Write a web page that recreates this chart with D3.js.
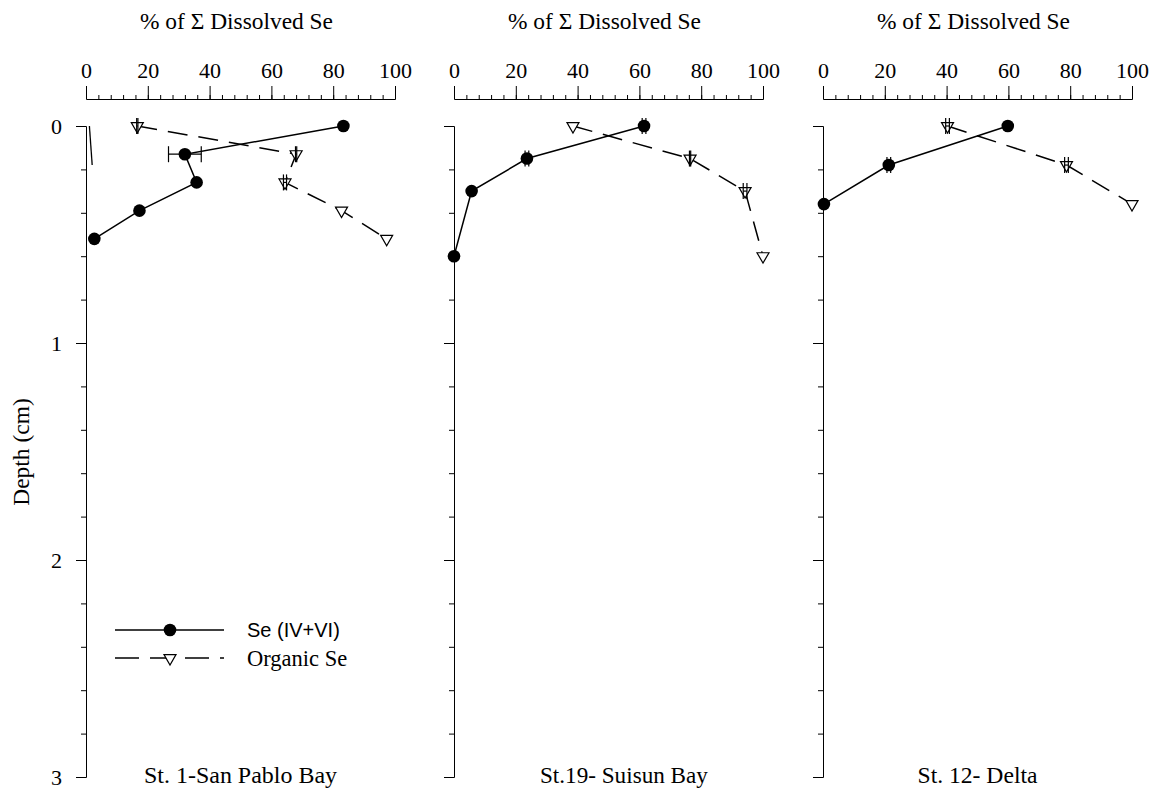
<!DOCTYPE html>
<html>
<head>
<meta charset="utf-8">
<script src="https://cdn.jsdelivr.net/npm/d3@7"></script>
<style>
  svg#chart text { font-family: "Liberation Serif", Tinos, "Times New Roman", serif !important; }
  svg#chart text.sans { font-family: "Liberation Sans", Arimo, Arial, sans-serif !important; }
</style>
</head>
<body style="margin:0">
<svg id="chart" width="1154" height="789" font-family="Liberation Serif"></svg>
<script>
// stations, left to right
const stations = ["St. 1-San Pablo Bay", "St.19- Suisun Bay", "St. 12- Delta"];

// sample depths (cm) per station
const depths = [
    [0, 0.13, 0.26, 0.39, 0.52],
    [0, 0.15, 0.30, 0.60],
    [0, 0.18, 0.36]
];

// Se(IV+VI), % of total dissolved Se
const inorganicSe = [
    [83.3, 32.0, 35.8, 17.3, 2.7],
    [61.5, 23.6, 5.7, 0],
    [59.8, 21.3, 0.3]
];
const inorganicErr = [
    [0, 5.3, 0, 0, 0],
    [0.6, 0.6, 0, 0],
    [0, 0.6, 0]
];

// organic Se, % of total dissolved Se
const organicSe = [
    [16.6, 68.0, 64.4, 82.7, 97.3],
    [38.5, 76.4, 94.2, 100],
    [40.3, 78.8, 100]
];
const organicErr = [
    [0.2, 0.2, 0.5, 0, 0],
    [0, 0.2, 0.6, 0],
    [0.6, 0.6, 0]
];

// short unlabelled trace near zero at St. 1
const traceSe    = [1.1, 2.0];
const traceDepth = [0, 0.18];

const xTicks     = [0, 20, 40, 60, 80, 100];
const depthTicks = [0, 1, 2, 3];

// layout
const panelLeft  = [86, 454, 823];
const panelWidth = 309;
const axisY      = 99;
const labelAt    = [50, 55, 50];     // station name position, in % units
const labelLen   = [193, 168, 120];  // station name widths as printed

const svg = d3.select("#chart");

const y = d3.scaleLinear().domain([0, 3]).range([126, 777]);

const tri = "M-6,-3.46L6,-3.46L0,6.93Z";

function styleAxis(g) {
    g.attr("font-family", null).attr("font-size", 22);
    g.selectAll("line").attr("stroke", "#000").attr("stroke-width", 1);
    g.select(".domain").attr("stroke", "#000").attr("stroke-width", 1);
    g.selectAll("text").attr("fill", "#000");
}

stations.forEach((name, i) => {
    const x = d3.scaleLinear().domain([0, 100]).range([panelLeft[i], panelLeft[i] + panelWidth]);
    const g = svg.append("g");

    // top axis: minor then major
    g.append("g")
        .attr("transform", `translate(0,${axisY})`)
        .call(d3.axisTop(x).tickValues(d3.range(0, 101, 4)).tickSize(4).tickSizeOuter(0).tickFormat(""))
        .call(styleAxis);
    g.append("g")
        .attr("transform", `translate(0,${axisY})`)
        .call(d3.axisTop(x).tickValues(xTicks).tickSize(13).tickSizeOuter(0).tickPadding(8))
        .call(styleAxis);

    g.append("text")
        .attr("x", x(50) - 4).attr("y", 29)
        .attr("text-anchor", "middle")
        .attr("font-size", 23)
        .attr("textLength", 193).attr("lengthAdjust", "spacingAndGlyphs")
        .text("% of Σ Dissolved Se");

    // depth axis
    g.append("g")
        .attr("transform", `translate(${panelLeft[i]},0)`)
        .call(d3.axisLeft(y).tickValues(d3.range(0, 3.01, 0.2)).tickSize(5).tickSizeOuter(0).tickFormat(""))
        .call(styleAxis);
    g.append("g")
        .attr("transform", `translate(${panelLeft[i]},0)`)
        .call(d3.axisLeft(y).tickValues(depthTicks).tickSize(10).tickSizeOuter(0).tickPadding(14)
            .tickFormat(i === 0 ? d3.format("d") : ""))
        .call(styleAxis);

    const line = d3.line().x(d => x(d.v)).y(d => y(d.d));

    const inorg = depths[i].map((d, k) => ({d, v: inorganicSe[i][k], e: inorganicErr[i][k]}));
    const org   = depths[i].map((d, k) => ({d, v: organicSe[i][k], e: organicErr[i][k]}));

    if (i === 0) {
        g.append("path")
            .datum(traceDepth.map((d, k) => ({d, v: traceSe[k]})))
            .attr("d", line)
            .attr("fill", "none").attr("stroke", "#000").attr("stroke-width", 1.3);
    }

    g.append("path").datum(org).attr("d", line)
        .attr("fill", "none").attr("stroke", "#000").attr("stroke-width", 1.5)
        .attr("stroke-dasharray", "20,11");
    g.append("path").datum(inorg).attr("d", line)
        .attr("fill", "none").attr("stroke", "#000").attr("stroke-width", 1.5);

    g.selectAll(".org").data(org).join("path")
        .attr("class", "org")
        .attr("transform", d => `translate(${x(d.v)},${y(d.d)})`)
        .attr("d", tri)
        .attr("fill", "#fff").attr("stroke", "#000").attr("stroke-width", 1.2);
    g.selectAll(".inorg").data(inorg).join("circle")
        .attr("class", "inorg")
        .attr("cx", d => x(d.v)).attr("cy", d => y(d.d))
        .attr("r", 6.3).attr("fill", "#000");

    // horizontal error bars with caps
    const bars = inorg.concat(org).filter(d => d.e > 0);
    const eb = g.selectAll(".err").data(bars).join("g").attr("class", "err")
        .attr("stroke", "#000").attr("stroke-width", 1.2);
    eb.append("line")
        .attr("x1", d => x(d.v - d.e)).attr("x2", d => x(d.v + d.e))
        .attr("y1", d => y(d.d)).attr("y2", d => y(d.d));
    eb.append("line")
        .attr("x1", d => x(d.v - d.e)).attr("x2", d => x(d.v - d.e))
        .attr("y1", d => y(d.d) - 8).attr("y2", d => y(d.d) + 8);
    eb.append("line")
        .attr("x1", d => x(d.v + d.e)).attr("x2", d => x(d.v + d.e))
        .attr("y1", d => y(d.d) - 8).attr("y2", d => y(d.d) + 8);

    g.append("text")
        .attr("x", x(labelAt[i])).attr("y", 783)
        .attr("text-anchor", "middle")
        .attr("font-size", 23)
        .attr("textLength", labelLen[i]).attr("lengthAdjust", "spacingAndGlyphs")
        .text(name);
});

svg.append("text")
    .attr("transform", "translate(21,452) rotate(-90)")
    .attr("text-anchor", "middle")
    .attr("dy", "0.35em")
    .attr("font-size", 23.5)
    .text("Depth (cm)");

// legend
const legend = svg.append("g");
const legendRows = [
    {label: "Se (IV+VI)", y: 630, dash: null, sans: true},
    {label: "Organic Se", y: 658, dash: "24,11", sans: false}
];
legendRows.forEach(r => {
    legend.append("line")
        .attr("x1", 115).attr("x2", 224).attr("y1", r.y).attr("y2", r.y)
        .attr("stroke", "#000").attr("stroke-width", 1.5)
        .attr("stroke-dasharray", r.dash);
    if (r.sans) {
        legend.append("circle").attr("cx", 170).attr("cy", r.y).attr("r", 6.3).attr("fill", "#000");
    } else {
        legend.append("path").attr("transform", `translate(170,${r.y})`).attr("d", tri)
            .attr("fill", "#fff").attr("stroke", "#000").attr("stroke-width", 1.2);
    }
    legend.append("text")
        .attr("class", r.sans ? "sans" : null)
        .attr("x", 247).attr("y", r.y).attr("dy", "0.35em")
        .attr("font-size", r.sans ? 20 : 22.5)
        .text(r.label);
});
</script>
</body>
</html>
